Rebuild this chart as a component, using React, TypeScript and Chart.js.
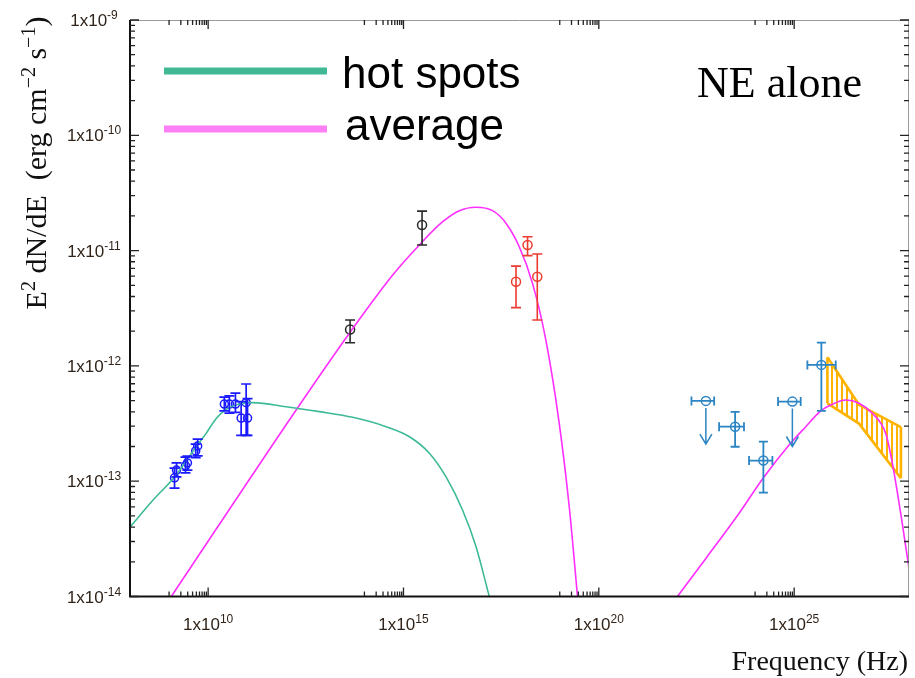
import React, { useEffect, useRef } from "react";
import { Chart, registerables } from "chart.js";

Chart.register(...registerables);

// ---- Model curves: frequency (Hz) vs E^2 dN/dE (erg cm^-2 s^-1) ----
const HOT_SPOTS_NU = [1e8, 3.8e8, 1.38e9, 4.96e9, 8.9e9, 1.61e10, 2.9e10, 6.4e10, 1.39e11, 9.9e11, 7.06e12, 5.02e13, 3.59e14, 1.42e15, 4.6e15, 1.23e16, 3.27e16, 7.2e16, 1.57e17];
const HOT_SPOTS_FLUX = [4.0e-14, 6.8e-14, 1.09e-13, 1.99e-13, 2.6e-13, 3.5e-13, 4.2e-13, 4.67e-13, 4.8e-13, 4.43e-13, 4.01e-13, 3.58e-13, 2.97e-13, 2.43e-13, 1.75e-13, 1.09e-13, 5.6e-14, 2.7e-14, 1.0e-14];

const AVG_SYNC_NU = [1.14e9, 1.79e12, 4.13e13, 5.3e14, 2.55e15, 1.01e16, 2.69e16, 7.2e16, 1.91e17, 4.2e17, 9.2e17, 2.01e18, 4.4e18, 9.7e18, 1.75e19, 2.85e19];
const AVG_SYNC_FLUX = [1e-14, 4.15e-13, 1.92e-12, 6.14e-12, 1.12e-11, 1.78e-11, 2.22e-11, 2.38e-11, 2.22e-11, 1.73e-11, 1.08e-11, 5.2e-12, 1.68e-12, 3.18e-13, 6.0e-14, 1e-14];

const AVG_IC_NU = [1.03e22, 5.5e22, 3.9e23, 1.6e24, 7.4e24, 1.98e25, 4.8e25, 8.6e25, 2.09e26, 4.57e26, 1.0e27, 2.2e27, 3.3e27, 5.85e27, 9.6e27];
const AVG_IC_FLUX = [1e-14, 2.14e-14, 5.27e-14, 1.06e-13, 2.06e-13, 2.97e-13, 4.07e-13, 4.58e-13, 5.06e-13, 4.74e-13, 3.88e-13, 2.6e-13, 1.4e-13, 4.3e-14, 1.39e-14];

// ---- Radio ----
const RADIO_NU = [1.38e9, 1.55e9, 2.63e9, 2.95e9, 4.8e9, 5.4e9, 2.6e10, 3.5e10, 5.0e10, 7.0e10, 9.4e10, 1.02e11];
const RADIO_FLUX = [1.07e-13, 1.25e-13, 1.36e-13, 1.44e-13, 1.83e-13, 2.02e-13, 4.67e-13, 4.67e-13, 4.67e-13, 3.53e-13, 4.8e-13, 3.53e-13];
const RADIO_LO = [8.7e-14, 1.09e-13, 1.18e-13, 1.25e-13, 1.6e-13, 1.66e-13, 4.07e-13, 3.9e-13, 3.95e-13, 2.5e-13, 2.5e-13, 2.5e-13];
const RADIO_HI = [1.3e-13, 1.44e-13, 1.62e-13, 1.65e-13, 2.1e-13, 2.32e-13, 5.37e-13, 5.5e-13, 5.8e-13, 4.9e-13, 6.97e-13, 5.2e-13];

// ---- Infrared / optical ----
const OPT_NU = [4.3e13, 2.99e15];
const OPT_FLUX = [2.07e-12, 1.67e-11];
const OPT_LO = [1.59e-12, 1.12e-11];
const OPT_HI = [2.5e-12, 2.2e-11];

// ---- X-ray ----
const XRAY_NU = [7.6e17, 1.5e18, 2.66e18];
const XRAY_FLUX = [5.37e-12, 1.12e-11, 5.94e-12];
const XRAY_LO = [3.2e-12, 9.04e-12, 2.5e-12];
const XRAY_HI = [7.34e-12, 1.32e-11, 9.33e-12];

// ---- Gamma-ray (Fermi) ----
const GAMMA_NU = [3.08e23, 1.63e24, 4.97e25];
const GAMMA_NU_LO = [1.2e23, 7.0e23, 2.18e25];
const GAMMA_NU_HI = [5.2e23, 2.77e24, 1.16e26];
const GAMMA_FLUX = [2.97e-13, 1.51e-13, 1.02e-12];
const GAMMA_LO = [1.99e-13, 7.95e-14, 4.08e-13];
const GAMMA_HI = [4.0e-13, 2.2e-13, 1.59e-12];

const GAMMA_UL_NU = [5.5e22, 9.0e24];
const GAMMA_UL_NU_LO = [2.35e22, 3.87e24];
const GAMMA_UL_NU_HI = [8.95e22, 1.47e25];
const GAMMA_UL_FLUX = [4.97e-13, 4.9e-13];
const GAMMA_UL_TIP = [2.1e-13, 2.0e-13];

// ---- TeV butterfly ----
const TEV_NU = [7.1e25, 4.57e26, 5.4e27];
const TEV_UPPER = [1.19e-12, 4.6e-13, 2.95e-13];
const TEV_LOWER = [4.74e-13, 3.16e-13, 1.06e-13];

// ---- Axes ----
const X_MIN = 1e8;
const X_MAX = 8.7e27;
const Y_MIN = 1e-14;
const Y_MAX = 1e-9;
const X_TICK_EXP = [10, 15, 20, 25];
const Y_TICK_EXP = [-9, -10, -11, -12, -13, -14];

const GREEN = "#3dba96";
const PINK = "#ff2eff";
const RADIO_BLUE = "#1a1aff";
const OPT_BLACK = "#2a2a2a";
const XRAY_RED = "#ec3c30";
const GAMMA_BLUE = "#2b84c4";
const ORANGE = "#ffb300";
const LABEL_COLOR = "#30241a";

const pts = (xs: number[], ys: number[]) => xs.map((x, i) => ({ x, y: ys[i] }));

type Part = { t: string; sup?: boolean };

function drawRich(
  ctx: CanvasRenderingContext2D,
  parts: Part[],
  x: number,
  y: number,
  align: "left" | "center" | "right",
  font: string,
  supFont: string,
  rise: number
) {
  const widths = parts.map((p) => {
    ctx.font = p.sup ? supFont : font;
    return ctx.measureText(p.t).width;
  });
  const total = widths.reduce((a, b) => a + b, 0);
  let cx = align === "center" ? x - total / 2 : align === "right" ? x - total : x;
  ctx.textAlign = "left";
  ctx.textBaseline = "alphabetic";
  parts.forEach((p, i) => {
    ctx.font = p.sup ? supFont : font;
    ctx.fillText(p.t, cx, p.sup ? y - rise : y);
    cx += widths[i];
  });
}

const sedPlugin = {
  id: "sedDecorations",
  afterDatasetsDraw(chart: any) {
    const { ctx, scales } = chart;
    const X = (v: number) => scales.x.getPixelForValue(v);
    const Y = (v: number) => scales.y.getPixelForValue(v);
    ctx.save();
    ctx.lineCap = "butt";

    const vbar = (nu: number, lo: number, hi: number, color: string, cap: number, lw: number) => {
      const px = X(nu);
      ctx.strokeStyle = color;
      ctx.lineWidth = lw;
      ctx.beginPath();
      ctx.moveTo(px, Y(lo));
      ctx.lineTo(px, Y(hi));
      ctx.moveTo(px - cap, Y(lo));
      ctx.lineTo(px + cap, Y(lo));
      ctx.moveTo(px - cap, Y(hi));
      ctx.lineTo(px + cap, Y(hi));
      ctx.stroke();
    };
    const hbar = (lo: number, hi: number, flux: number, color: string, cap: number, lw: number) => {
      const py = Y(flux);
      ctx.strokeStyle = color;
      ctx.lineWidth = lw;
      ctx.beginPath();
      ctx.moveTo(X(lo), py);
      ctx.lineTo(X(hi), py);
      ctx.moveTo(X(lo), py - cap);
      ctx.lineTo(X(lo), py + cap);
      ctx.moveTo(X(hi), py - cap);
      ctx.lineTo(X(hi), py + cap);
      ctx.stroke();
    };

    RADIO_NU.forEach((nu, i) => vbar(nu, RADIO_LO[i], RADIO_HI[i], RADIO_BLUE, 5, 1.7));
    OPT_NU.forEach((nu, i) => vbar(nu, OPT_LO[i], OPT_HI[i], OPT_BLACK, 5, 1.6));
    XRAY_NU.forEach((nu, i) => vbar(nu, XRAY_LO[i], XRAY_HI[i], XRAY_RED, 5, 1.6));
    GAMMA_NU.forEach((nu, i) => {
      vbar(nu, GAMMA_LO[i], GAMMA_HI[i], GAMMA_BLUE, 4.5, 1.8);
      hbar(GAMMA_NU_LO[i], GAMMA_NU_HI[i], GAMMA_FLUX[i], GAMMA_BLUE, 4.5, 1.8);
    });
    GAMMA_UL_NU.forEach((nu, i) => {
      hbar(GAMMA_UL_NU_LO[i], GAMMA_UL_NU_HI[i], GAMMA_UL_FLUX[i], GAMMA_BLUE, 4.5, 1.8);
      const px = X(nu);
      const top = Y(GAMMA_UL_FLUX[i]) + 7;
      const tip = Y(GAMMA_UL_TIP[i]);
      ctx.strokeStyle = GAMMA_BLUE;
      ctx.lineWidth = 1.5;
      ctx.beginPath();
      ctx.moveTo(px, top);
      ctx.lineTo(px, tip);
      ctx.moveTo(px - 6, tip - 10);
      ctx.lineTo(px, tip);
      ctx.lineTo(px + 6, tip - 10);
      ctx.stroke();
    });
    ctx.restore();
  },
  afterDraw(chart: any) {
    const { ctx, chartArea: a, scales } = chart;
    const X = (v: number) => scales.x.getPixelForValue(v);
    const Y = (v: number) => scales.y.getPixelForValue(v);
    ctx.save();

    // frame
    ctx.strokeStyle = "#9a9a9a";
    ctx.lineWidth = 1;
    ctx.beginPath();
    ctx.moveTo(a.left, a.top + 0.5);
    ctx.lineTo(a.right, a.top + 0.5);
    ctx.moveTo(a.right - 0.5, a.top);
    ctx.lineTo(a.right - 0.5, a.bottom);
    ctx.stroke();
    ctx.strokeStyle = "#111";
    ctx.lineWidth = 2;
    ctx.beginPath();
    ctx.moveTo(a.left, a.top);
    ctx.lineTo(a.left, a.bottom);
    ctx.lineTo(a.right, a.bottom);
    ctx.stroke();

    // ticks
    ctx.lineWidth = 1.3;
    ctx.strokeStyle = "#222";
    ctx.beginPath();
    Y_TICK_EXP.forEach((e) => {
      const py = Y(Math.pow(10, e));
      ctx.moveTo(a.left, py);
      ctx.lineTo(a.left + 9, py);
      ctx.moveTo(a.right, py);
      ctx.lineTo(a.right - 9, py);
      if (e > -14) {
        for (let k = 2; k <= 9; k++) {
          const pm = Y(k * Math.pow(10, e - 1));
          ctx.moveTo(a.left, pm);
          ctx.lineTo(a.left + 5, pm);
          ctx.moveTo(a.right, pm);
          ctx.lineTo(a.right - 5, pm);
        }
      }
    });
    X_TICK_EXP.forEach((e) => {
      const px = X(Math.pow(10, e));
      ctx.moveTo(px, a.bottom);
      ctx.lineTo(px, a.bottom - 9);
      ctx.moveTo(px, a.top);
      ctx.lineTo(px, a.top + 9);
      for (let k = 1; k <= 9; k++) {
        const pm = X(k * Math.pow(10, e - 1));
        ctx.moveTo(pm, a.bottom);
        ctx.lineTo(pm, a.bottom - 5);
        ctx.moveTo(pm, a.top);
        ctx.lineTo(pm, a.top + 5);
      }
    });
    ctx.stroke();

    // tick labels
    ctx.fillStyle = LABEL_COLOR;
    const tf = "17px 'Liberation Sans Narrow', 'Liberation Sans'";
    const sf = "12px 'Liberation Sans Narrow', 'Liberation Sans'";
    Y_TICK_EXP.forEach((e) => {
      drawRich(ctx, [{ t: "1x10" }, { t: String(e), sup: true }], 94, Y(Math.pow(10, e)) + 6, "center", tf, sf, 7);
    });
    X_TICK_EXP.forEach((e) => {
      drawRich(ctx, [{ t: "1x10" }, { t: String(e), sup: true }], X(Math.pow(10, e)), 630, "center", tf, sf, 7);
    });

    // axis titles
    ctx.fillStyle = "#111";
    drawRich(ctx, [{ t: "Frequency (Hz)" }], 908, 670, "right", "28px 'Liberation Serif'", "", 0);
    ctx.save();
    ctx.translate(46, 163);
    ctx.rotate(-Math.PI / 2);
    drawRich(
      ctx,
      [
        { t: "E" },
        { t: "2", sup: true },
        { t: " dN/dE  (erg cm" },
        { t: "\u22122", sup: true },
        { t: " s" },
        { t: "\u22121", sup: true },
        { t: ")" },
      ],
      0,
      0,
      "center",
      "30px 'Liberation Serif'",
      "20px 'Liberation Serif'",
      11
    );
    ctx.restore();

    // legend
    ctx.lineCap = "butt";
    ctx.lineWidth = 7;
    ctx.strokeStyle = "#40b894";
    ctx.beginPath();
    ctx.moveTo(164, 71);
    ctx.lineTo(327, 71);
    ctx.stroke();
    ctx.strokeStyle = "#ff80f6";
    ctx.beginPath();
    ctx.moveTo(164, 129);
    ctx.lineTo(327, 129);
    ctx.stroke();
    ctx.fillStyle = "#000";
    drawRich(ctx, [{ t: "hot spots" }], 342, 88, "left", "44px 'Liberation Sans'", "", 0);
    drawRich(ctx, [{ t: "average" }], 345, 140, "left", "44px 'Liberation Sans'", "", 0);

    drawRich(ctx, [{ t: "NE alone" }], 697, 97, "left", "44px 'Liberation Serif'", "", 0);
    ctx.restore();
  },
};

export default function App() {
  const ref = useRef<HTMLCanvasElement | null>(null);

  useEffect(() => {
    const canvas = ref.current;
    if (!canvas) return;
    const ctx = canvas.getContext("2d")!;

    // vertical hatching for the TeV butterfly
    const tile = document.createElement("canvas");
    tile.width = 5;
    tile.height = 8;
    const tctx = tile.getContext("2d")!;
    tctx.fillStyle = ORANGE;
    tctx.fillRect(1, 0, 2, 8);
    const hatch = ctx.createPattern(tile, "repeat");

    const curve = (label: string, xs: number[], ys: number[], color: string) => ({
      label,
      data: pts(xs, ys),
      borderColor: color,
      borderWidth: 1.6,
      pointRadius: 0,
      showLine: true,
      fill: false,
      cubicInterpolationMode: "monotone" as const,
    });
    const markers = (label: string, xs: number[], ys: number[], color: string, r: number) => ({
      label,
      data: pts(xs, ys),
      showLine: false,
      pointRadius: r,
      pointStyle: "circle",
      pointBorderColor: color,
      pointBackgroundColor: "rgba(0,0,0,0)",
      pointBorderWidth: 1.5,
      borderColor: color,
    });

    const chart = new Chart(canvas, {
      type: "line",
      data: {
        datasets: [
          curve("hot spots", HOT_SPOTS_NU, HOT_SPOTS_FLUX, GREEN),
          curve("average", AVG_SYNC_NU, AVG_SYNC_FLUX, PINK),
          curve("average IC", AVG_IC_NU, AVG_IC_FLUX, PINK),
          {
            label: "TeV upper",
            data: pts(TEV_NU, TEV_UPPER),
            borderColor: ORANGE,
            borderWidth: 2.6,
            pointRadius: 0,
            tension: 0,
            fill: "+1",
            backgroundColor: hatch as any,
          },
          {
            label: "TeV lower",
            data: pts(TEV_NU, TEV_LOWER),
            borderColor: ORANGE,
            borderWidth: 2.6,
            pointRadius: 0,
            tension: 0,
            fill: false,
          },
          {
            label: "TeV left",
            data: [
              { x: TEV_NU[0], y: TEV_UPPER[0] },
              { x: TEV_NU[0], y: TEV_LOWER[0] },
            ],
            borderColor: ORANGE,
            borderWidth: 2.6,
            pointRadius: 0,
            fill: false,
          },
          {
            label: "TeV right",
            data: [
              { x: TEV_NU[2], y: TEV_UPPER[2] },
              { x: TEV_NU[2], y: TEV_LOWER[2] },
            ],
            borderColor: ORANGE,
            borderWidth: 2.6,
            pointRadius: 0,
            fill: false,
          },
          markers("radio", RADIO_NU, RADIO_FLUX, RADIO_BLUE, 4),
          markers("optical", OPT_NU, OPT_FLUX, OPT_BLACK, 4.5),
          markers("X-ray", XRAY_NU, XRAY_FLUX, XRAY_RED, 4.5),
          markers("gamma", GAMMA_NU, GAMMA_FLUX, GAMMA_BLUE, 4.5),
          markers("gamma UL", GAMMA_UL_NU, GAMMA_UL_FLUX, GAMMA_BLUE, 4.5),
        ] as any,
      },
      options: {
        responsive: false,
        animation: false,
        devicePixelRatio: 1,
        layout: { padding: { left: 130, top: 20, right: 5, bottom: 81.5 } },
        plugins: { legend: { display: false }, tooltip: { enabled: false } },
        scales: {
          x: { type: "logarithmic", min: X_MIN, max: X_MAX, bounds: "data", display: false },
          y: { type: "logarithmic", min: Y_MIN, max: Y_MAX, bounds: "data", display: false },
        },
      } as any,
      plugins: [sedPlugin as any],
    });
    return () => chart.destroy();
  }, []);

  return (
    <div style={{ position: "absolute", left: 0, top: 0, width: 915, height: 678, background: "#fff" }}>
      <canvas ref={ref} width={915} height={678} style={{ display: "block", width: 915, height: 678 }} />
    </div>
  );
}
